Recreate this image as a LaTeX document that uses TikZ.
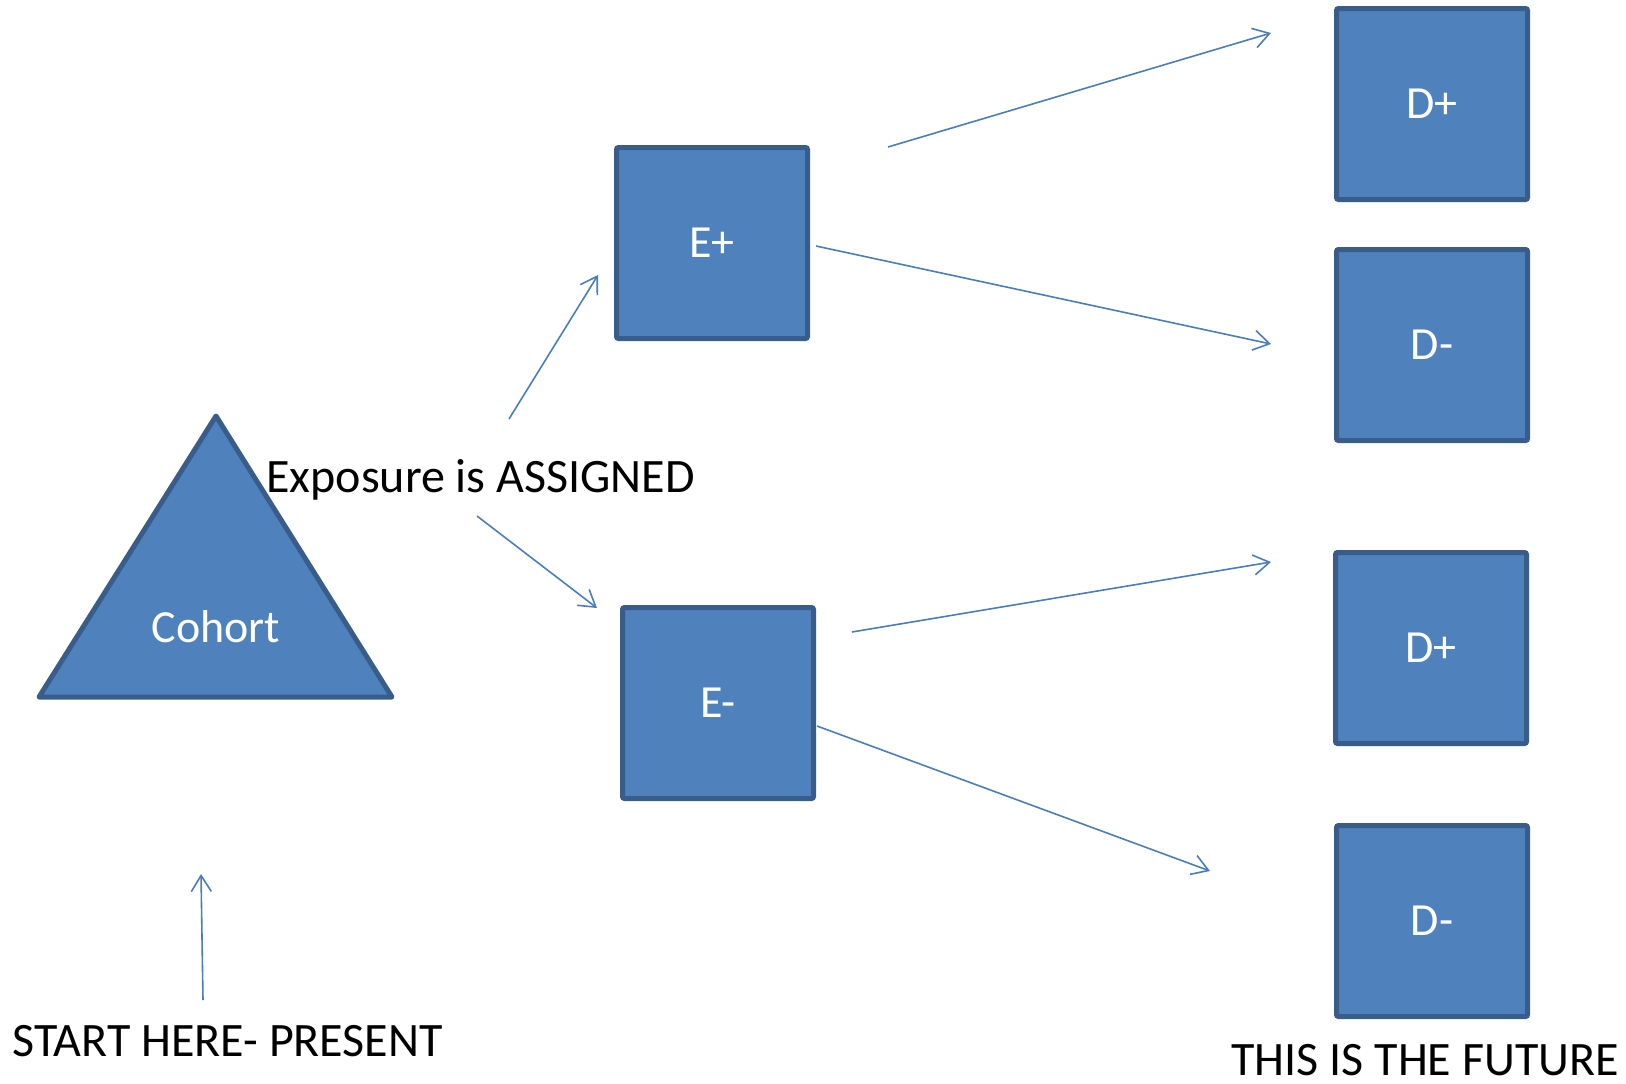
\documentclass[tikz,border=0pt]{standalone}
\usepackage{fontspec}
\setmainfont{Carlito}
\usetikzlibrary{arrows.meta}
\definecolor{boxfill}{HTML}{4F81BD}
\definecolor{boxline}{HTML}{385D8A}
\definecolor{arrowcol}{HTML}{4A7EBB}
\begin{document}
\begin{tikzpicture}[x=0.5pt,y=-0.5pt,
  box/.style={draw=boxline,fill=boxfill,line width=2.5pt,rounded corners=1pt,
    minimum width=95.5pt,minimum height=95.5pt,inner sep=0pt,
    text=white,font=\fontsize{23}{27}\selectfont},
  link/.style={draw=arrowcol,line width=0.8pt,-{Straight Barb[length=8pt,width=10pt,line width=0.8pt]}},
  caption/.style={inner sep=0pt,font=\fontsize{24}{28}\selectfont}]
\useasboundingbox (0,0) rectangle (1626,1083);

% cohort triangle
\draw[draw=boxline,fill=boxfill,line width=2.5pt,line join=round]
  (216,416) -- (392,697) -- (39,697) -- cycle;
\node[text=white,font=\fontsize{23}{27}\selectfont] (cohort) at (216,627) {Cohort};

% exposure and disease boxes
\node[box] (eplus)  at (712,243) {E+};
\node[box] (eminus) at (718,703) {E-};
\node[box] (dplusA)  at (1432,104) {D+};
\node[box] (dminusA) at (1432,345) {D-};
\node[box] (dplusB)  at (1431,648) {D+};
\node[box] (dminusB) at (1432,921) {D-};

% captions
\node[caption,anchor=base west] (assign) at (266,492) {Exposure is ASSIGNED};
\node[caption,anchor=base west] (start) at (12,1056) {START HERE- PRESENT};
\node[caption,anchor=base west] (future) at (1231,1075) {THIS IS THE FUTURE};

% free arrow ends
\coordinate (a1s) at (509,419);  \coordinate (a1e) at (598,275);
\coordinate (a2s) at (477,516);  \coordinate (a2e) at (597,608);
\coordinate (a3s) at (888,147);  \coordinate (a3e) at (1271,33);
\coordinate (a4s) at (816,246);  \coordinate (a4e) at (1271,344);
\coordinate (a5s) at (852,632);  \coordinate (a5e) at (1271,562);
\coordinate (a6s) at (817,726);  \coordinate (a6e) at (1210,871);
\coordinate (a7s) at (203,1000); \coordinate (a7e) at (201,874);

\draw[link] (a1s) -- (a1e);
\draw[link] (a2s) -- (a2e);
\draw[link] (a3s) -- (a3e);
\draw[link] (a4s) -- (a4e);
\draw[link] (a5s) -- (a5e);
\draw[link] (a6s) -- (a6e);
\draw[link] (a7s) -- (a7e);
\end{tikzpicture}
\end{document}
